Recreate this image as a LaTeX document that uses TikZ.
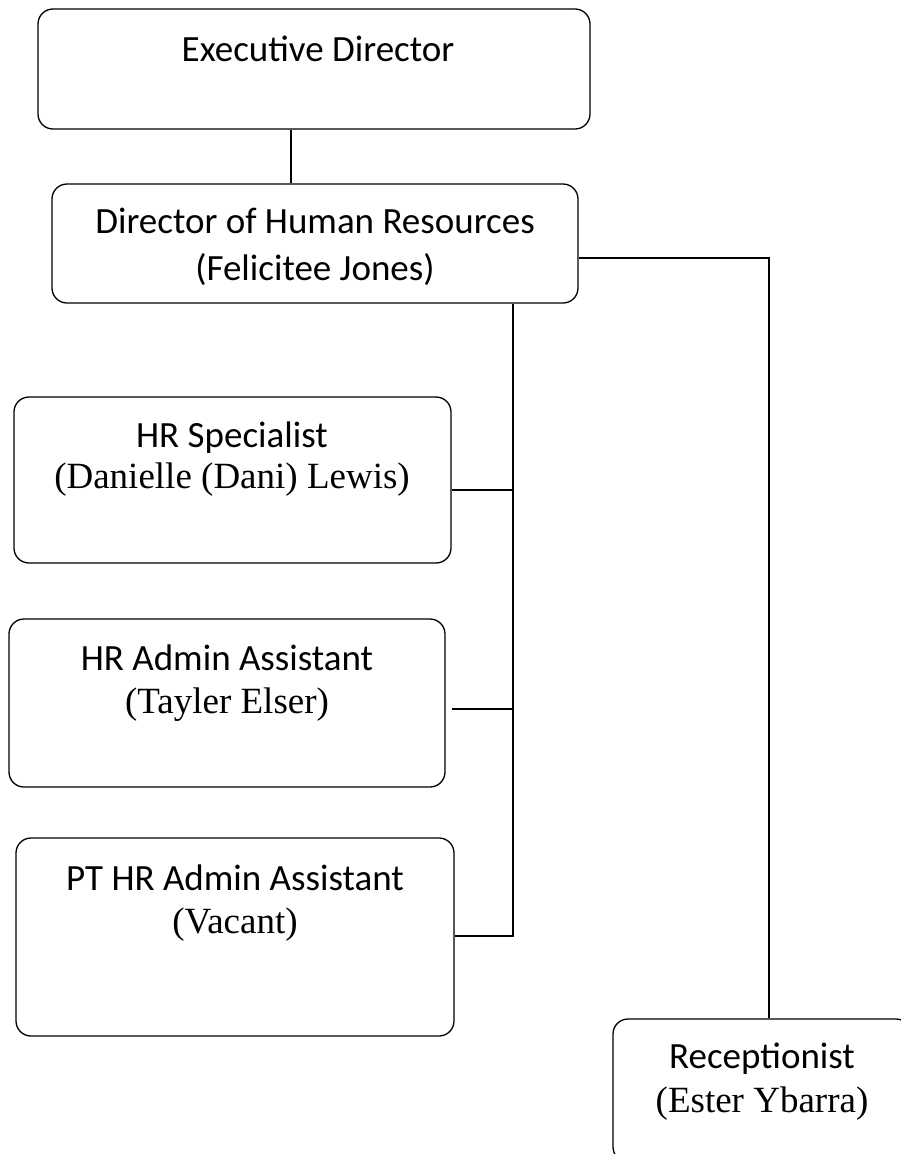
\documentclass[tikz,border=0pt]{standalone}
\usepackage{fontspec}
\setmainfont{Carlito}
\newfontfamily\namefont{Liberation Serif}
\usetikzlibrary{calc}

\tikzset{
  orgbox/.style={draw=black, line width=1.3pt, rounded corners=15pt,
    inner sep=0pt, minimum width=#1},
  titletext/.style={anchor=base, inner sep=0pt,
    font=\fontsize{37}{44}\selectfont},
  nametext/.style={anchor=base, inner sep=0pt,
    font=\fontsize{37}{44}\selectfont\namefont},
  link/.style={draw=black, line width=1.2pt}
}

\begin{document}
\begin{tikzpicture}[x=1pt,y=-1pt]
\useasboundingbox (0,0) rectangle (901,1154);
\fill[white] (0,0) rectangle (901,1154);
\clip (0,0) rectangle (901,1154);

% boxes
\node[orgbox=552pt, minimum height=120pt] (ed)   at (314,69)     {};
\node[orgbox=526pt, minimum height=119pt] (dhr)  at (315,243.5)  {};
\node[orgbox=437pt, minimum height=166pt] (hrs)  at (232.5,480)  {};
\node[orgbox=436pt, minimum height=168pt] (hraa) at (227,703)    {};
\node[orgbox=438pt, minimum height=198pt] (pt)   at (235,937)    {};
\node[orgbox=298pt, minimum height=143pt] (rec)  at (762,1090.5) {};

% labels
\node[titletext] (ed-l1)   at (318,61)   {Executive Director};
\node[titletext] (dhr-l1)  at (315,233)  {Director of Human Resources};
\node[titletext] (dhr-l2)  at (315,280)  {(Felicitee Jones)};
\node[titletext] (hrs-l1)  at (232,447)  {HR Specialist};
\node[nametext]  (hrs-l2)  at (232,488)  {(Danielle (Dani) Lewis)};
\node[titletext] (hraa-l1) at (227,670)  {HR Admin Assistant};
\node[nametext]  (hraa-l2) at (227,713)  {(Tayler Elser)};
\node[titletext] (pt-l1)   at (235,890)  {PT HR Admin Assistant};
\node[nametext]  (pt-l2)   at (235,933)  {(Vacant)};
\node[titletext] (rec-l1)  at (762,1068) {Receptionist};
\node[nametext]  (rec-l2)  at (762,1112) {(Ester Ybarra)};

% junction points of the connector lines
\coordinate (top)   at (291,0);
\coordinate (busA)  at (513,0);
\coordinate (busB)  at (769,258);
\coordinate (jhrs)  at (513,490);
\coordinate (jhraa) at (513,709);
\coordinate (jpt)   at (513,936);

% connectors
\draw[link] (ed.south -| top) -- (dhr.north -| top);
\draw[link] (dhr.east |- busB) -- (busB) -- (busB |- rec.north);
\draw[link] (busA |- dhr.south) -- (jpt) -- (pt.east |- jpt);
\draw[link] (hrs.east |- jhrs) -- (jhrs);
\draw[link] ([xshift=6pt]hraa.east |- jhraa) -- (jhraa);
\end{tikzpicture}
\end{document}
